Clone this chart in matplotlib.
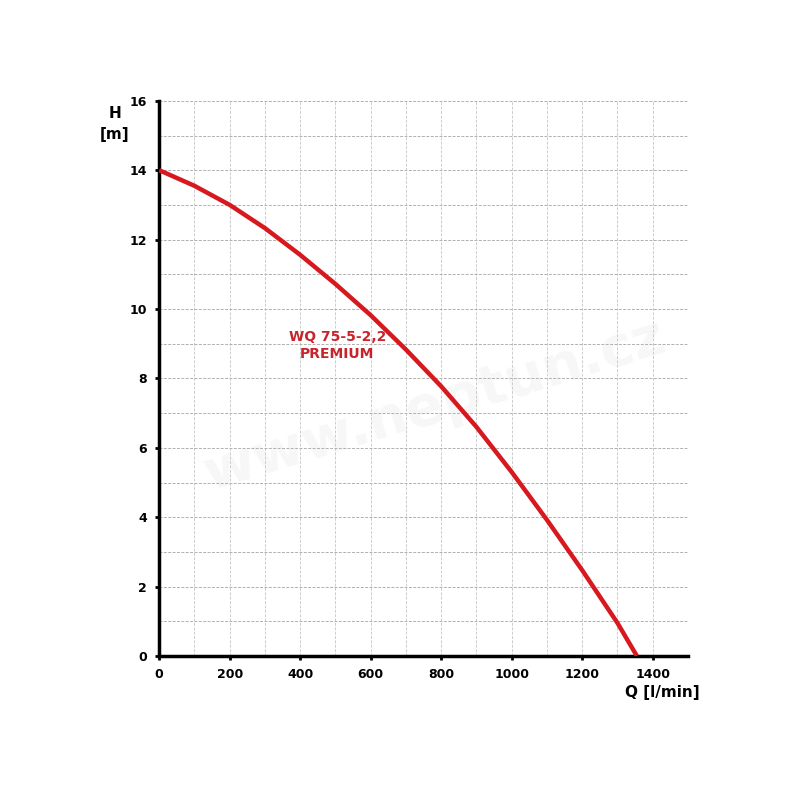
import numpy as np
import matplotlib
matplotlib.use("Agg")
import matplotlib.pyplot as plt

# pump curve
q = [0, 100, 200, 300, 400, 500, 600, 700, 800, 900, 1000, 1100, 1200, 1300, 1355]
h = [14.0, 13.55, 13.0, 12.33, 11.56, 10.72, 9.82, 8.83, 7.77, 6.6, 5.3, 3.92, 2.47, 0.95, 0.0]
x_ticks = [0, 200, 400, 600, 800, 1000, 1200, 1400]
y_ticks = [0, 2, 4, 6, 8, 10, 12, 14, 16]
label = "WQ 75-5-2,2\nPREMIUM"

fig = plt.figure(figsize=(8, 8), dpi=100)
ax = fig.add_axes([0.199, 0.18, 0.661, 0.694])

ax.set_xlim(0, 1500)
ax.set_ylim(0, 16)
ax.set_xticks(x_ticks)
ax.set_yticks(y_ticks)
ax.set_xticks(np.arange(0, 1501, 100), minor=True)
ax.set_yticks(np.arange(0, 17, 1), minor=True)

ax.grid(which="both", axis="x", color="#cccccc", linestyle=(0, (3, 1.5)), linewidth=0.7)
ax.grid(which="both", axis="y", color="#b0b0b0", linestyle=(0, (3, 1.5)), linewidth=0.7)
ax.set_axisbelow(True)

for s in ["top", "right"]:
    ax.spines[s].set_visible(False)
for s in ["left", "bottom"]:
    ax.spines[s].set_linewidth(2.5)
    ax.spines[s].set_color("black")

ax.tick_params(which="major", length=3, width=2, labelsize=9, pad=6)
ax.tick_params(which="minor", length=0)
for t in ax.get_xticklabels() + ax.get_yticklabels():
    t.set_fontweight("bold")

# faint watermark
ax.text(780, 7.2, "www.neptun.cz", fontsize=40, fontweight="bold", color="#f7f7f7",
        rotation=17, ha="center", va="center", zorder=0)

ax.plot(q, h, color="#d7191f", linewidth=3.2, solid_capstyle="butt",
        solid_joinstyle="round", zorder=3)

ax.text(505, 8.95, label, color="#c8242b", fontsize=10, fontweight="bold",
        ha="center", va="center", linespacing=1.3)

fig.text(115 / 800, 1 - 113 / 800, "H", fontsize=11, fontweight="bold", ha="center", va="center")
fig.text(115 / 800, 1 - 135 / 800, "[m]", fontsize=11, fontweight="bold", ha="center", va="center")
fig.text(662 / 800, 1 - 693 / 800, "Q [l/min]", fontsize=11, fontweight="bold", ha="center", va="center")

fig.savefig("out.png", dpi=100, facecolor="white")
